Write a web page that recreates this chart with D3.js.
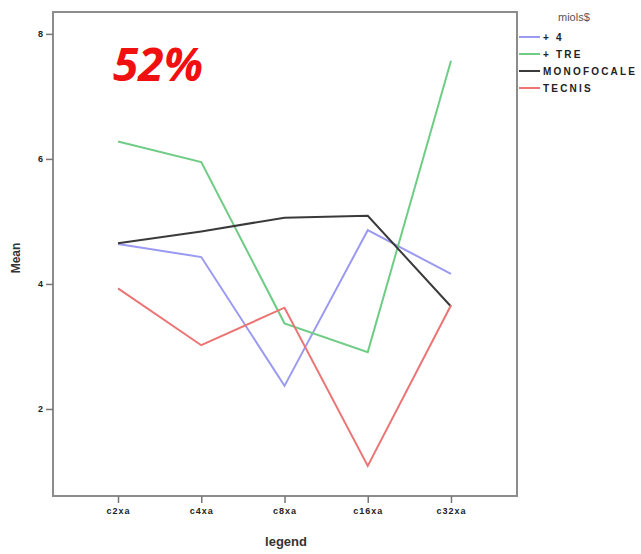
<!DOCTYPE html>
<html>
<head>
<meta charset="utf-8">
<script src="https://cdn.jsdelivr.net/npm/d3@7"></script>
<style>
  html, body { margin: 0; padding: 0; background: #fff; }
  svg { display: block; }
</style>
</head>
<body>
<svg id="chart" width="641" height="554"></svg>
<script>
const categories = ["c2xa", "c4xa", "c8xa", "c16xa", "c32xa"];
const seriesNames = ["+ 4", "+ TRE", "MONOFOCALE", "TECNIS"];
const valuesPlus4 = [4.64, 4.43, 2.37, 4.86, 4.16];
const valuesTre = [6.28, 5.95, 3.37, 2.91, 7.57];
const valuesMono = [4.65, 4.84, 5.06, 5.09, 3.64];
const valuesTecnis = [3.93, 3.02, 3.62, 1.09, 3.66];
const seriesColors = ["#9a9af2", "#6fcc85", "#3a3a3a", "#ec7474"];
const yTicks = [2, 4, 6, 8];
const legendTitle = "miols$";
const xTitle = "legend";
const yTitle = "Mean";
const annotation = "52%";

const series = [valuesPlus4, valuesTre, valuesMono, valuesTecnis];

const svg = d3.select("#chart");
const plotLeft = 53, plotRight = 517, plotTop = 12, plotBottom = 496;

const x = d3.scalePoint().domain(categories).range([118, 451]);
const y = d3.scaleLinear().domain([0.608, 8.35]).range([plotBottom, plotTop]);

// frame
svg.append("rect")
  .attr("x", plotLeft).attr("y", plotTop)
  .attr("width", plotRight - plotLeft).attr("height", plotBottom - plotTop)
  .attr("fill", "none").attr("stroke", "#8c8c8c").attr("stroke-width", 2);

// y axis
const yAxis = d3.axisLeft(y).tickValues(yTicks).tickSize(7).tickPadding(3).tickFormat(d3.format("d"));
const yg = svg.append("g").attr("transform", `translate(${plotLeft},0)`).call(yAxis);
yg.select(".domain").remove();
yg.selectAll(".tick line").attr("stroke", "#777").attr("stroke-width", 1.5);
yg.selectAll(".tick text").attr("font-family", "'Liberation Sans', Arial, sans-serif")
  .attr("font-size", 9).attr("font-weight", "bold").attr("fill", "#222");

// x axis
const xAxis = d3.axisBottom(x).tickSize(7).tickPadding(5);
const xg = svg.append("g").attr("transform", `translate(0,${plotBottom})`).call(xAxis);
xg.select(".domain").remove();
xg.selectAll(".tick line").attr("stroke", "#777").attr("stroke-width", 1.5);
xg.selectAll(".tick text").attr("font-family", "'Liberation Sans', Arial, sans-serif")
  .attr("font-size", 9).attr("font-weight", "bold").attr("fill", "#222")
  .attr("letter-spacing", "1px");

// titles
svg.append("text").attr("x", 286).attr("y", 546).attr("text-anchor", "middle")
  .attr("font-family", "'Liberation Sans', Arial, sans-serif")
  .attr("font-size", 13).attr("font-weight", "bold").attr("fill", "#333")
  .text(xTitle);
svg.append("text").attr("transform", "translate(20,258) rotate(-90)").attr("text-anchor", "middle")
  .attr("font-family", "'Liberation Sans', Arial, sans-serif")
  .attr("font-size", 12).attr("font-weight", "bold").attr("fill", "#333")
  .text(yTitle);

// lines
const line = d3.line().x((d, i) => x(categories[i])).y(d => y(d));
series.forEach((vals, k) => {
  svg.append("path").datum(vals)
    .attr("d", line)
    .attr("fill", "none")
    .attr("stroke", seriesColors[k])
    .attr("stroke-width", 2)
    .attr("stroke-linejoin", "miter");
});

// annotation
svg.append("text").attr("x", 113).attr("y", 81)
  .attr("font-family", "'Open Sans', 'Liberation Sans', Arial, sans-serif")
  .attr("font-size", 46).attr("font-weight", "bold").attr("font-style", "italic")
  .attr("fill", "#f01010")
  .text(annotation);

// legend
svg.append("text").attr("x", 558).attr("y", 21)
  .attr("font-family", "'Liberation Sans', Arial, sans-serif")
  .attr("font-size", 11).attr("fill", "#555")
  .text(legendTitle);
seriesNames.forEach((name, k) => {
  const ly = 37 + k * 17;
  svg.append("line").attr("x1", 519).attr("x2", 540).attr("y1", ly).attr("y2", ly)
    .attr("stroke", seriesColors[k]).attr("stroke-width", 2);
  svg.append("text").attr("x", 543).attr("y", ly + 3.5)
    .attr("font-family", "'Liberation Sans', Arial, sans-serif")
    .attr("font-size", 10).attr("font-weight", "bold").attr("fill", "#222")
    .attr("letter-spacing", "2.2px")
    .text(name);
});
</script>
</body>
</html>
